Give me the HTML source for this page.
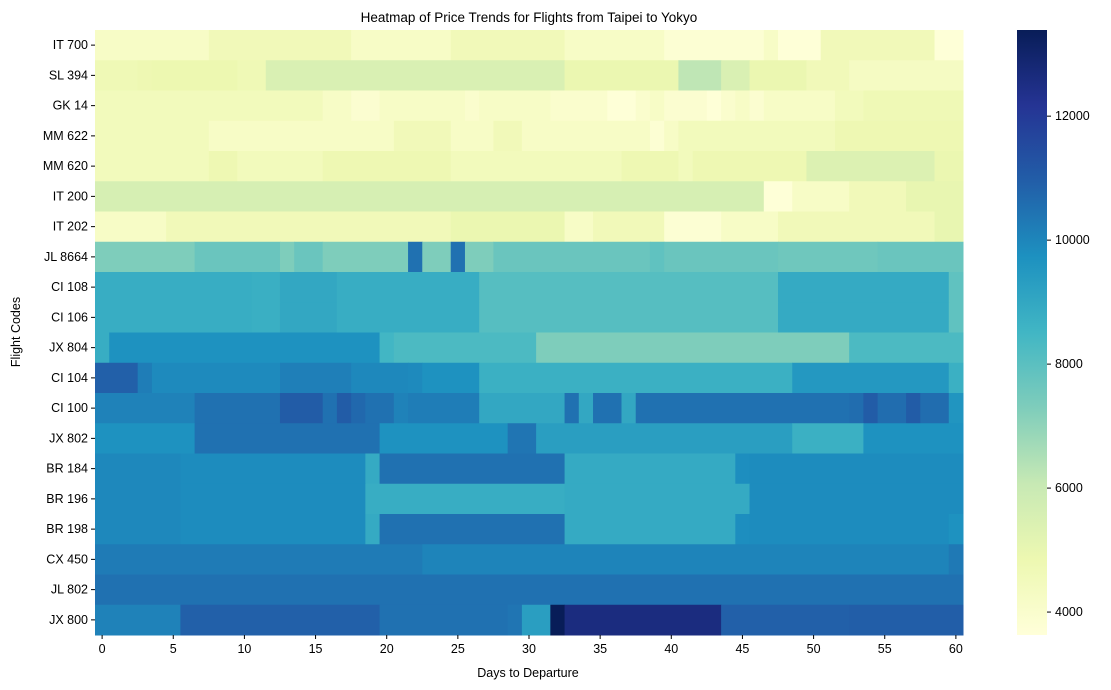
<!DOCTYPE html>
<html><head><meta charset="utf-8"><style>
body{margin:0;background:#fff;}
svg{display:block;font-family:"Liberation Sans",sans-serif;}
</style></head><body>
<svg id="chart" width="1111" height="690" viewBox="0 0 1111 690" xmlns="http://www.w3.org/2000/svg">
<text x="529" y="22" font-size="13.5" text-anchor="middle" fill="#000">Heatmap of Price Trends for Flights from Taipei to Yokyo</text>
<g id="cells"></g>
<g id="axes"></g>
<text x="528" y="677" font-size="12.5" text-anchor="middle">Days to Departure</text>
<text transform="translate(20,332) rotate(-90)" font-size="12.5" text-anchor="middle">Flight Codes</text>
<defs><linearGradient id="cbg" x1="0" y1="1" x2="0" y2="0"></linearGradient></defs>
<rect x="1017" y="30" width="30" height="605" fill="url(#cbg)"/>
<g id="cbticks"></g>
</svg>
<script>
const flights = ["IT 700","SL 394","GK 14","MM 622","MM 620","IT 200","IT 202","JL 8664","CI 108","CI 106","JX 804","CI 104","CI 100","JX 802","BR 184","BR 196","BR 198","CX 450","JL 802","JX 800"];
const days = 61;
const xTicks = [0,5,10,15,20,25,30,35,40,45,50,55,60];
const cbTicks = [4000,6000,8000,10000,12000];
// run-length price data per flight: [startDay, price]
const r0 = [[0,4200],[8,4600],[18,4200],[25,4600],[33,4200],[40,3800],[47,4200],[48,3700],[51,4600],[59,3700]];
const r1 = [[0,4700],[3,4800],[4,4850],[10,4700],[12,5500],[33,4900],[41,6200],[44,5500],[46,4900],[50,4600],[53,4300]];
const r2 = [[0,4500],[16,4200],[18,3900],[20,4200],[26,4000],[27,4200],[32,4000],[36,3700],[38,4000],[39,4200],[40,3900],[43,3700],[44,4000],[45,4200],[46,3900],[47,4200],[52,4500],[54,4700]];
const r3 = [[0,4500],[8,4200],[21,4600],[25,4200],[28,4600],[30,4200],[39,3800],[40,4200],[41,4500],[52,4800]];
const r4 = [[0,4500],[8,4800],[10,4500],[16,4800],[25,4500],[37,4800],[41,4500],[42,4800],[50,5400],[59,4900]];
const r5 = [[0,5600],[47,3700],[49,4200],[53,4600],[57,5000]];
const r6 = [[0,4200],[5,4600],[25,4900],[33,4200],[35,4600],[40,3800],[44,4200],[48,4600],[59,5000]];
const r7 = [[0,7300],[7,7700],[13,7300],[14,7700],[16,7300],[22,10500],[23,7300],[25,10500],[26,7300],[28,7700],[39,7900],[40,7700],[48,7600],[55,7700]];
const r8 = [[0,8800],[11,8750],[13,9000],[17,8800],[27,8100],[48,8900],[60,7900]];
const r9 = [[0,8800],[11,8750],[13,9000],[17,8800],[27,8100],[48,8900],[60,7900]];
const r10 = [[0,8800],[1,9700],[20,8500],[21,8300],[31,7300],[53,8300]];
const r11 = [[0,10900],[3,10200],[4,9900],[13,10150],[18,9950],[22,9900],[23,9700],[27,8700],[49,9500],[60,8700]];
const r12 = [[0,10100],[7,10500],[13,11000],[16,10500],[17,11000],[18,10700],[19,10500],[21,10100],[22,10200],[27,9000],[33,10500],[34,9000],[35,10500],[37,9000],[38,10500],[53,10600],[54,11000],[55,10600],[57,11000],[58,10600],[60,9600]];
const r13 = [[0,9700],[7,10500],[20,9700],[29,10400],[31,9300],[49,8700],[54,9700]];
const r14 = [[0,9950],[6,9850],[19,8900],[20,10500],[33,8900],[45,9800],[46,9850]];
const r15 = [[0,9950],[6,9850],[19,8800],[33,8900],[46,9850]];
const r16 = [[0,9950],[6,9850],[19,8900],[20,10500],[33,8900],[45,9800],[46,9850],[60,9700]];
const r17 = [[0,10250],[23,10050],[60,10300]];
const r18 = [[0,10500]];
const r19 = [[0,10100],[6,10900],[20,10500],[29,10400],[30,9300],[32,13390],[33,12600],[44,10900],[53,10950]];
const runs = [r0,r1,r2,r3,r4,r5,r6,r7,r8,r9,r10,r11,r12,r13,r14,r15,r16,r17,r18,r19];

const vmin = 3630, vmax = 13390;
const L = 95, R = 963, T = 30, B = 635;
const cw = (R-L)/days, rh = (B-T)/flights.length;
const stops = ["#ffffd9","#edf8b1","#c7e9b4","#7fcdbb","#41b6c4","#1d91c0","#225ea8","#253494","#081d58"];
function hex(h){return [1,3,5].map(i=>parseInt(h.substr(i,2),16));}
function cmap(v){
  let t=(v-vmin)/(vmax-vmin); t=Math.max(0,Math.min(1,t));
  const p=t*(stops.length-1), i=Math.min(stops.length-2,Math.floor(p)), f=p-i;
  const a=hex(stops[i]), b=hex(stops[i+1]);
  return "rgb("+a.map((x,k)=>Math.round(x+(b[k]-x)*f)).join(",")+")";
}
const xPos = d => L + d*cw;
const yPos = r => T + r*rh;
const cbY = v => B - (v-vmin)/(vmax-vmin)*(B-T);
const NS="http://www.w3.org/2000/svg";
function mk(tag,attrs,parent){const e=document.createElementNS(NS,tag);for(const k in attrs)e.setAttribute(k,attrs[k]);parent.appendChild(e);return e;}

const cells=document.getElementById("cells");
runs.forEach((run,r)=>{
  run.forEach((seg,i)=>{
    const start=seg[0], end=i+1<run.length?run[i+1][0]:days;
    const rect=mk("rect",{x:xPos(start),y:yPos(r),width:(end-start)*cw+0.5,height:rh+0.5,fill:cmap(seg[1])},cells);
    
    
  });
});
const axes=document.getElementById("axes");
flights.forEach((f,r)=>{
  const y=yPos(r)+rh/2;
  mk("line",{x1:L-4,x2:L,y1:y,y2:y,stroke:"#000","stroke-width":1},axes);
  const t=mk("text",{x:L-7,y:y+4,"font-size":12.5,"text-anchor":"end"},axes);
  t.textContent=f;
  
  
});
xTicks.forEach(d=>{
  const x=xPos(d)+cw/2;
  mk("line",{x1:x,x2:x,y1:B,y2:B+4,stroke:"#000","stroke-width":1},axes);
  const t=mk("text",{x:x,y:B+18,"font-size":12.5,"text-anchor":"middle"},axes);
  t.textContent=d;
  
  
});
const g=document.getElementById("cbg");
stops.forEach((c,i)=>mk("stop",{offset:(i/(stops.length-1)),"stop-color":c},g));
const cbt=document.getElementById("cbticks");
cbTicks.forEach(v=>{
  const y=cbY(v);
  mk("line",{x1:1047,x2:1051,y1:y,y2:y,stroke:"#000","stroke-width":1},cbt);
  const t=mk("text",{x:1055,y:y+4,"font-size":12.5},cbt);
  t.textContent=v;
  
  
});
</script>
</body></html>
